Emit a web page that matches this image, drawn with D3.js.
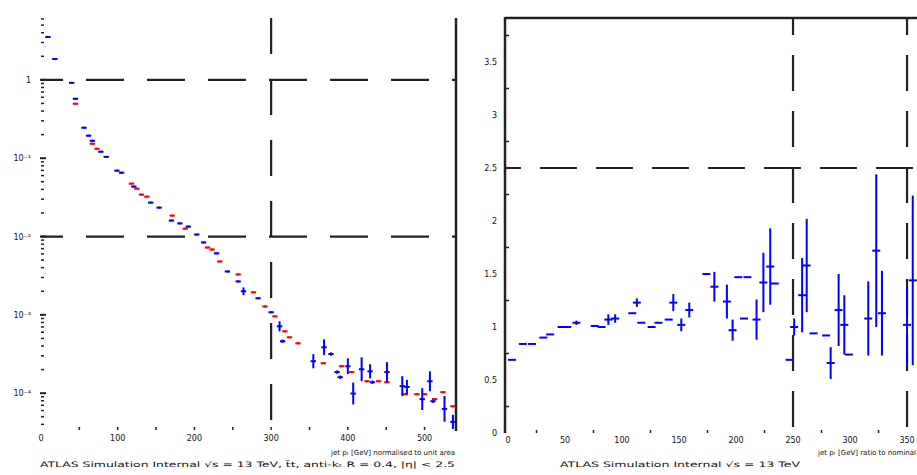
<!DOCTYPE html>
<html>
<head>
<meta charset="utf-8">
<script src="https://cdn.jsdelivr.net/npm/d3@7"></script>
<style>
  body { margin: 0; background: #fff; }
  text { font-family: "DejaVu Sans", sans-serif; fill: #111; }
</style>
</head>
<body>
<svg width="917" height="475"></svg>
<script>
// ---- data ----
// left panel: log-scale distribution, two samples
var leftXTicks = [0, 100, 200, 300, 400, 500];
var leftYTicks = [1, 1e-1, 1e-2, 1e-3, 1e-4];
var leftYLabels = ["1", "10\u207B\u00B9", "10\u207B\u00B2", "10\u207B\u00B3", "10\u207B\u2074"];

var blueX = [9, 18, 40, 45, 56, 62, 67, 78, 85, 99, 105, 121, 143, 154, 170, 181, 192, 203, 212, 229,
  243, 257, 264, 283, 300, 311, 315, 355, 369, 378, 386, 390, 400, 407, 418, 429, 432, 451, 471, 477,
  497, 507, 511, 526, 537];
var blueY = [3.53, 1.85, 0.916, 0.573, 0.245, 0.194, 0.167, 0.121, 0.104, 0.0693, 0.0653, 0.0434, 0.0271,
  0.0234, 0.016, 0.0147, 0.0134, 0.0106, 0.0084, 0.0061, 0.00358, 0.00267, 0.0020, 0.00163, 0.00108,
  0.000714, 0.00046, 0.000256, 0.000386, 0.000316, 0.000186, 0.00016, 0.000221, 0.000099, 0.000202,
  0.00019, 0.000138, 0.000186, 0.000123, 0.00012, 0.000084, 0.000142, 0.000079, 0.000063, 0.000043];
// relative (multiplicative) error: bar goes from y/(1+e) to y*(1+e)
var blueErr = [0.03, 0.03, 0.03, 0.03, 0.03, 0.03, 0.03, 0.03, 0.03, 0.03, 0.03, 0.03, 0.03, 0.03, 0.03,
  0.03, 0.03, 0.03, 0.03, 0.03, 0.03, 0.03, 0.12, 0.03, 0.03, 0.16, 0.05, 0.23, 0.26, 0.05, 0.05, 0.05,
  0.26, 0.38, 0.42, 0.23, 0.05, 0.34, 0.34, 0.23, 0.38, 0.34, 0.05, 0.46, 0.23];

var redX = [45, 67, 73, 118, 125, 131, 138, 171, 188, 217, 223, 233, 257, 277, 292, 305, 318, 324, 335,
  368, 392, 405, 425, 440, 451, 475, 490, 500, 513, 524, 537];
var redY = [0.495, 0.153, 0.132, 0.0473, 0.0408, 0.0343, 0.0323, 0.0185, 0.0126, 0.00724, 0.00683, 0.0048,
  0.00328, 0.00194, 0.00128, 0.000957, 0.000616, 0.000517, 0.000433, 0.000241, 0.000221, 0.000186,
  0.000142, 0.000142, 0.000138, 0.000097, 0.000097, 0.000097, 0.000084, 0.000103, 0.000068];

// right panel: ratio
var rightXTicks = [0, 50, 100, 150, 200, 250, 300, 350];
var rightYTicks = [0, 0.5, 1, 1.5, 2, 2.5, 3, 3.5];
var ratioX = [3.5, 13, 21, 31, 37, 47, 52, 60, 76, 82, 88, 94, 109, 113, 117, 126, 132, 141, 145, 152,
  159, 174, 181, 192, 197, 202, 207, 210, 218, 224, 230, 234, 247, 251, 258, 262, 268, 279, 283, 290,
  295, 299, 316, 323, 328, 350, 355];
var ratioY = [0.69, 0.84, 0.84, 0.90, 0.93, 1.00, 1.00, 1.04, 1.01, 1.00, 1.07, 1.08, 1.13, 1.23, 1.04, 1.00,
  1.04, 1.07, 1.23, 1.02, 1.16, 1.50, 1.38, 1.24, 0.97, 1.47, 1.08, 1.47, 1.07, 1.42, 1.57, 1.41, 0.69,
  1.00, 1.30, 1.58, 0.94, 0.92, 0.66, 1.16, 1.02, 0.74, 1.08, 1.72, 1.13, 1.02, 1.44];
var ratioErr = [0, 0, 0, 0, 0, 0, 0, 0.02, 0, 0, 0.05, 0.04, 0, 0.04, 0, 0, 0, 0, 0.08, 0.06, 0.07, 0,
  0.14, 0.16, 0.10, 0, 0, 0, 0.19, 0.28, 0.36, 0, 0, 0.08, 0.35, 0.44, 0, 0, 0.15, 0.34, 0.28, 0, 0.35,
  0.72, 0.40, 0.36, 0.80];

var leftCaption = "ATLAS Simulation Internal   \u221As = 13 TeV,  t\u0304t,  anti-k\u209C R = 0.4,  |\u03B7| < 2.5";
var leftTitle = ["jet p\u209C [GeV]", "normalised to unit area"];
var rightCaption = "ATLAS Simulation Internal   \u221As = 13 TeV";
var rightTitle = ["jet p\u209C [GeV]", "ratio to nominal"];

var svg = d3.select("svg");
var ink = "#222";

// ---- left panel ----
var xL = d3.scaleLinear().domain([0, 541]).range([41, 456]);
var yL = d3.scaleLog().domain([Math.pow(10, -4.47), Math.pow(10, 0.79)]).range([430, 18]);

var gl = svg.append("g");

// y ticks (major + minor), no axis line
var minorL = [];
for (var e = -5; e <= 0; e++) {
  for (var k = 2; k <= 9; k++) {
    var v = k * Math.pow(10, e);
    if (v > yL.domain()[0] && v < yL.domain()[1]) minorL.push(v);
  }
}
gl.selectAll(".ymin").data(minorL).enter().append("line")
  .attr("x1", 41).attr("x2", 44)
  .attr("y1", d => yL(d)).attr("y2", d => yL(d))
  .attr("stroke", ink).attr("stroke-width", 1.5);
gl.selectAll(".ymaj").data(leftYTicks).enter().append("line")
  .attr("x1", 40).attr("x2", 46)
  .attr("y1", d => yL(d)).attr("y2", d => yL(d))
  .attr("stroke", ink).attr("stroke-width", 2);
gl.selectAll(".ylab").data(leftYTicks).enter().append("text")
  .attr("x", 31).attr("y", d => yL(d) + 3)
  .attr("text-anchor", "end").attr("font-size", 8)
  .text((d, i) => leftYLabels[i]);

// x ticks
gl.selectAll(".xmin").data(d3.range(50, 541, 50)).enter().append("line")
  .attr("x1", d => xL(d)).attr("x2", d => xL(d))
  .attr("y1", 430).attr("y2", 427)
  .attr("stroke", ink).attr("stroke-width", 1.5);
gl.selectAll(".xlab").data(leftXTicks).enter().append("text")
  .attr("x", d => xL(d)).attr("y", 441)
  .attr("text-anchor", "middle").attr("font-size", 8)
  .text(d => d);

// frame right edge
gl.append("line").attr("x1", 456).attr("x2", 456).attr("y1", 18).attr("y2", 431)
  .attr("stroke", ink).attr("stroke-width", 2.5);

// dashed cut lines
[1, 1e-2].forEach(function(v) {
  gl.append("line").attr("x1", 41).attr("x2", 456).attr("y1", yL(v)).attr("y2", yL(v))
    .attr("stroke", ink).attr("stroke-width", 2.2)
    .attr("stroke-dasharray", "38,23").attr("stroke-dashoffset", 16);
});
gl.append("line").attr("x1", xL(300)).attr("x2", xL(300)).attr("y1", 18).attr("y2", 430)
  .attr("stroke", ink).attr("stroke-width", 2.2).attr("stroke-dasharray", "36,25");

function drawLogPoints(g, xs, ys, errs, color) {
  var pts = xs.map((x, i) => ({x: x, y: ys[i], e: errs ? errs[i] : 0.03}));
  var grp = g.append("g");
  grp.selectAll(".h").data(pts).enter().append("line")
    .attr("x1", d => xL(d.x - 3.5)).attr("x2", d => xL(d.x + 3.5))
    .attr("y1", d => yL(d.y)).attr("y2", d => yL(d.y))
    .attr("stroke", color).attr("stroke-width", 2);
  grp.selectAll(".v").data(pts).enter().append("line")
    .attr("x1", d => xL(d.x)).attr("x2", d => xL(d.x))
    .attr("y1", d => yL(d.y / (1 + d.e))).attr("y2", d => yL(d.y * (1 + d.e)))
    .attr("stroke", color).attr("stroke-width", 2);
}
drawLogPoints(gl, redX, redY, null, "#ff0000");
drawLogPoints(gl, blueX, blueY, blueErr, "#0000ff");

// captions
gl.append("text").attr("x", 455).attr("y", 455).attr("text-anchor", "end").attr("font-size", 7)
  .text(leftTitle.join("   "));
gl.append("text").attr("x", 40).attr("y", 467).attr("font-size", 7.5)
  .attr("textLength", 415).attr("lengthAdjust", "spacingAndGlyphs")
  .text(leftCaption);

// ---- right panel ----
var xR = d3.scaleLinear().domain([0, 359]).range([508, 917.3]);
var yR = d3.scaleLinear().domain([0, 3.915]).range([433, 18]);
var gr = svg.append("g");

gr.selectAll(".ymin").data(d3.range(0.25, 3.9, 0.5)).enter().append("line")
  .attr("x1", 505).attr("x2", 509)
  .attr("y1", d => yR(d)).attr("y2", d => yR(d))
  .attr("stroke", ink).attr("stroke-width", 1.5);
gr.selectAll(".ylab").data(rightYTicks).enter().append("text")
  .attr("x", 497).attr("y", d => yR(d) + 3)
  .attr("text-anchor", "end").attr("font-size", 8)
  .text(d => d);
gr.selectAll(".xmin").data(d3.range(25, 359, 50)).enter().append("line")
  .attr("x1", d => xR(d)).attr("x2", d => xR(d))
  .attr("y1", 433).attr("y2", 430)
  .attr("stroke", ink).attr("stroke-width", 1.5);
gr.selectAll(".xlab").data(rightXTicks).enter().append("text")
  .attr("x", d => xR(d)).attr("y", 443)
  .attr("text-anchor", "middle").attr("font-size", 8)
  .text(d => d);

// frame: top and left
gr.append("line").attr("x1", 505).attr("x2", 917).attr("y1", 18).attr("y2", 18)
  .attr("stroke", ink).attr("stroke-width", 2.5);
gr.append("line").attr("x1", 505).attr("x2", 505).attr("y1", 17).attr("y2", 433)
  .attr("stroke", ink).attr("stroke-width", 2.5);

gr.append("line").attr("x1", 505).attr("x2", 917).attr("y1", yR(2.5)).attr("y2", yR(2.5))
  .attr("stroke", ink).attr("stroke-width", 2.2)
  .attr("stroke-dasharray", "37,19").attr("stroke-dashoffset", 21);
[250, 350].forEach(function(v) {
  gr.append("line").attr("x1", xR(v)).attr("x2", xR(v)).attr("y1", 18).attr("y2", 433)
    .attr("stroke", ink).attr("stroke-width", 2.2)
    .attr("stroke-dasharray", "36,20").attr("stroke-dashoffset", 19);
});

var rpts = ratioX.map((x, i) => ({x: x, y: ratioY[i], e: ratioErr[i]}));
var rg = gr.append("g");
rg.selectAll(".h").data(rpts).enter().append("line")
  .attr("x1", d => xR(d.x - 3.5)).attr("x2", d => xR(d.x + 3.5))
  .attr("y1", d => yR(d.y)).attr("y2", d => yR(d.y))
  .attr("stroke", "#0000ff").attr("stroke-width", 2);
rg.selectAll(".v").data(rpts).enter().append("line")
  .attr("x1", d => xR(d.x)).attr("x2", d => xR(d.x))
  .attr("y1", d => yR(d.y - d.e)).attr("y2", d => yR(d.y + d.e))
  .attr("stroke", "#0000ff").attr("stroke-width", 2);

gr.append("text").attr("x", 916).attr("y", 455).attr("text-anchor", "end").attr("font-size", 7)
  .text(rightTitle.join("   "));
gr.append("text").attr("x", 560).attr("y", 467).attr("font-size", 7.5)
  .attr("textLength", 240).attr("lengthAdjust", "spacingAndGlyphs")
  .text(rightCaption);
</script>
</body>
</html>
